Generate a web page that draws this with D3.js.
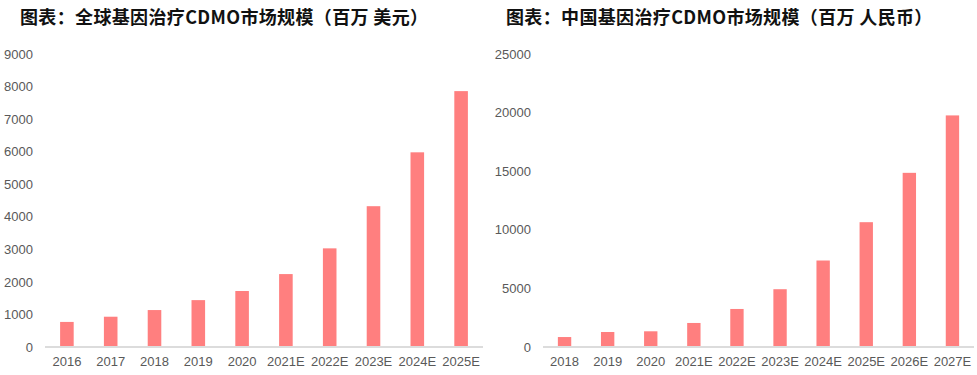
<!DOCTYPE html>
<html>
<head>
<meta charset="utf-8">
<title></title>
<style type="text/css">
body { margin: 0; background: #fff; }
text { font-family: 'Liberation Sans', Arial, sans-serif; }
.title { font-family: 'Noto Sans CJK SC', sans-serif; font-weight: 700; font-size: 18px; fill: #111; letter-spacing: 0.35px; }
.tick text { font-size: 13px; fill: #595959; }
</style>
</head>
<body>
<script src="https://d3js.org/d3.v7.min.js"></script>
<script type="text/javascript">

// global market, million USD
const globalYears = ['2016', '2017', '2018', '2019', '2020', '2021E', '2022E', '2023E', '2024E', '2025E'];
const globalValues = [770, 930, 1135, 1440, 1720, 2240, 3030, 4325, 5980, 7860];
const globalTicks = [0, 1000, 2000, 3000, 4000, 5000, 6000, 7000, 8000, 9000];

// China market, million RMB
const chinaYears = ['2018', '2019', '2020', '2021E', '2022E', '2023E', '2024E', '2025E', '2026E', '2027E'];
const chinaValues = [850, 1280, 1340, 2050, 3245, 4930, 7380, 10650, 14860, 19760];
const chinaTicks = [0, 5000, 10000, 15000, 20000, 25000];

const titles = ['图表：全球基因治疗CDMO市场规模（百万 美元）', '图表：中国基因治疗CDMO市场规模（百万 人民币）'];

var W = 977, H = 375;

var svg = d3.select("body").append("svg")
    .attr("width", W)
    .attr("height", H);

function drawPanel(opts) {
  var x = d3.scaleBand()
      .domain(opts.cats)
      .range([opts.x0, opts.x1])
      .paddingInner(0.69)
      .paddingOuter(0.345);

  var y = d3.scaleLinear()
      .domain([0, opts.ymax])
      .range([347, 54]);

  svg.append("text")
      .attr("class", "title")
      .attr("x", opts.titleX)
      .attr("y", 24)
      .text(opts.title);

  // y labels, no axis line
  var yAxis = svg.append("g")
      .attr("transform", "translate(" + opts.labelX + ",0)")
      .call(d3.axisLeft(y).tickValues(opts.ticks).tickSize(0).tickPadding(0).tickFormat(d3.format("d")));
  yAxis.select(".domain").remove();

  svg.selectAll(null)
      .data(opts.cats)
      .enter().append("rect")
      .attr("x", function(d) { return x(d); })
      .attr("y", function(d, i) { return y(opts.vals[i]); })
      .attr("width", x.bandwidth())
      .attr("height", function(d, i) { return y(0) - y(opts.vals[i]); })
      .attr("fill", "#ff7f7f");

  // baseline
  svg.append("line")
      .attr("x1", opts.x0)
      .attr("x2", opts.x1)
      .attr("y1", y(0))
      .attr("y2", y(0))
      .attr("stroke", "#dcdcdc")
      .attr("stroke-width", 2);

  var xAxis = svg.append("g")
      .attr("transform", "translate(0," + y(0) + ")")
      .call(d3.axisBottom(x).tickSize(0).tickPadding(10));
  xAxis.select(".domain").remove();
}

drawPanel({
  cats: globalYears, vals: globalValues, ticks: globalTicks, ymax: 9000,
  x0: 45, x1: 483, labelX: 33, titleX: 20, title: titles[0]
});

drawPanel({
  cats: chinaYears, vals: chinaValues, ticks: chinaTicks, ymax: 25000,
  x0: 543, x1: 974, labelX: 531, titleX: 506, title: titles[1]
});

</script>
</body>
</html>
